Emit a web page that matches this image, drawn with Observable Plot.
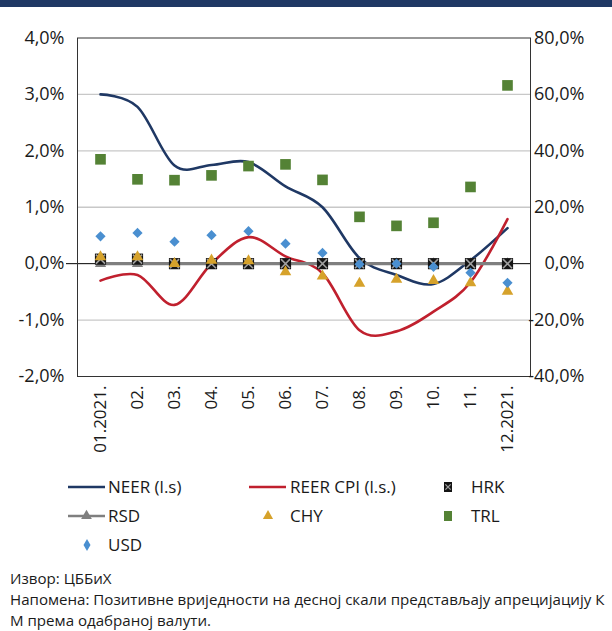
<!DOCTYPE html>
<html><head><meta charset="utf-8">
<script src="https://cdn.jsdelivr.net/npm/d3@7"></script>
<script src="https://cdn.jsdelivr.net/npm/@observablehq/plot@0.6"></script>
<style>
body{margin:0;width:612px;height:631px;position:relative;background:#fff;font-family:"Open Sans",sans-serif;overflow:hidden;color:#1a1a1a}
#bar{position:absolute;left:0;top:0;width:612px;height:7px;background:#1f3864}
#chart{position:absolute;left:0;top:0}
#legend{position:absolute;left:0;top:465px}
#note{position:absolute;left:10px;top:568px;font-size:15.1px;line-height:21px;color:#1a1a1a;white-space:nowrap}
</style></head>
<body>
<div id="chart"></div>
<div id="bar"></div>
<div id="legend"></div>
<div id="note">Извор: ЦББиХ<br>Напомена: Позитивне вриједности на десној скали представљају апрецијацију К<br>М према одабраној валути.</div>
<script>
const months = ["01.2021.","02.","03.","04.","05.","06.","07.","08.","09.","10.","11.","12.2021."];
const neer = [3.0, 2.78, 1.74, 1.75, 1.80, 1.37, 1.0, 0.1, -0.2, -0.36, 0.06, 0.63];
const reer = [-0.30, -0.20, -0.73, 0.0, 0.47, 0.13, -0.17, -1.18, -1.2, -0.85, -0.33, 0.79];
const hrk = [1.6, 1.6, 0, 0, 0, 0, 0, 0, 0, 0, 0, 0];
const rsd = [0, 0, 0, 0, 0, 0, 0, 0, 0, 0, 0, 0];
const chy = [2.4, 2.4, 0.0, 1.2, 1.0, -2.9, -4.4, -7.0, -5.6, -6.0, -6.8, -9.8];
const trl = [37.0, 29.9, 29.6, 31.3, 34.6, 35.2, 29.7, 16.6, 13.4, 14.5, 27.2, 63.2];
const usd = [9.7, 10.9, 7.8, 10.1, 11.5, 7.1, 3.8, -0.2, 0.0, -1.1, -3.2, -6.8];
const leftTicks = [-2, -1, 0, 1, 2, 3, 4];
const ratio = 20; // right axis / left axis

const C = {neer:"#1f3864", reer:"#c0202e", rsd:"#7f7f7f", hrk:"#141414", hrkX:"#a0a0a0", chy:"#d6a22b", trl:"#548235", usd:"#4a8fd0"};

const data = months.map((m, i) => ({m, neer: neer[i], reer: reer[i], hrk: hrk[i], rsd: rsd[i], chy: chy[i], trl: trl[i], usd: usd[i]}));
const r2 = k => d => d[k] / ratio;
const fmt = v => v.toFixed(1).replace(".", ",") + "%";

const chart = Plot.plot({
  width: 612, height: 460,
  marginTop: 37.5, marginBottom: 84, marginLeft: 77, marginRight: 82,
  style: {fontFamily: "Open Sans", fontSize: "18px", color: "#1a1a1a", background: "transparent", overflow: "visible"},
  x: {type: "point", domain: months, padding: 0.5, label: null},
  y: {domain: [-2, 4], label: null},
  marks: [
    Plot.gridY([-1, 1, 2, 3], {stroke: "#c8c8c8", strokeOpacity: 1, strokeWidth: 1.4}),
    Plot.ruleY([0], {stroke: "#000", strokeWidth: 1}),
    Plot.frame({stroke: "#333", strokeWidth: 1}),
    Plot.axisY(leftTicks, {anchor: "left", tickSize: 0, tickPadding: 13, tickFormat: fmt, fontSize: 18, label: null}),
    Plot.axisY([0], {anchor: "left", tickSize: 11, tickFormat: () => "", stroke: "#000", label: null}),
    Plot.axisY(leftTicks, {anchor: "right", tickSize: 0, tickPadding: 54, textAnchor: "end", tickFormat: d => fmt(d * ratio), fontSize: 18, label: null}),
    Plot.axisX({tickSize: 0, tickPadding: 9, tickRotate: -90, fontSize: 17, label: null}),
    Plot.line(data, {x: "m", y: "neer", stroke: C.neer, strokeWidth: 2.6, curve: "cardinal"}),
    Plot.line(data, {x: "m", y: "reer", stroke: C.reer, strokeWidth: 2.6, curve: "cardinal"}),
    Plot.line(data, {x: "m", y: r2("rsd"), stroke: C.rsd, strokeWidth: 3.2}),
    Plot.dot(data, {x: "m", y: r2("rsd"), symbol: "triangle", r: 4.2, fill: C.rsd}),
    Plot.dot(data, {x: "m", y: r2("hrk"), symbol: "square", r: 6.3, fill: C.hrk}),
    Plot.dot(data, {x: "m", y: r2("hrk"), symbol: "times", r: 4.2, stroke: C.hrkX, strokeWidth: 1.6}),
    Plot.dot(data, {x: "m", y: r2("chy"), symbol: "triangle", r: 4.3, fill: C.chy}),
    Plot.dot(data, {x: "m", y: r2("trl"), symbol: "square", r: 6.0, fill: C.trl}),
    Plot.dot(data, {x: "m", y: r2("usd"), symbol: "diamond2", r: 4.6, fill: C.usd})
  ]
});
document.getElementById("chart").append(chart);

// legend
const legendItems = [
  {label: "NEER (l.s)", kind: "line", color: C.neer, x: 68, row: 0},
  {label: "REER CPI (l.s.)", kind: "line", color: C.reer, x: 249, row: 0},
  {label: "HRK", kind: "hrk", x: 448, row: 0},
  {label: "RSD", kind: "lineTri", color: C.rsd, x: 68, row: 1},
  {label: "CHY", kind: "tri", color: C.chy, x: 268, row: 1},
  {label: "TRL", kind: "sq", color: C.trl, x: 448, row: 1},
  {label: "USD", kind: "dia", color: C.usd, x: 87, row: 2}
];
const textX = {68: 108, 249: 290, 448: 471, 268: 290, 87: 108};
const svg = d3.select("#legend").append("svg").attr("width", 612).attr("height", 100)
  .style("font-family", "Open Sans").style("font-size", "17px");
const rowY = i => 22 + i * 29;
legendItems.forEach(it => {
  const y = rowY(it.row);
  const g = svg.append("g");
  if (it.kind === "line" || it.kind === "lineTri") {
    g.append("line").attr("x1", it.x).attr("x2", it.x + 37).attr("y1", y).attr("y2", y)
      .attr("stroke", it.color).attr("stroke-width", 2.6);
    if (it.kind === "lineTri") g.append("path").attr("d", d3.symbol(d3.symbolTriangle, 50)()).attr("transform", `translate(${it.x + 18.5},${y})`).attr("fill", it.color);
  } else if (it.kind === "hrk") {
    g.append("rect").attr("x", it.x - 4).attr("y", y - 5).attr("width", 8).attr("height", 10).attr("fill", C.hrk);
    g.append("path").attr("d", d3.symbol(d3.symbolTimes, 20)()).attr("transform", `translate(${it.x},${y})`).attr("stroke", C.hrkX).attr("stroke-width", 1.3).attr("fill", "none");
  } else if (it.kind === "tri") {
    g.append("path").attr("d", d3.symbol(d3.symbolTriangle, 45)()).attr("transform", `translate(${it.x},${y})`).attr("fill", it.color);
  } else if (it.kind === "sq") {
    g.append("rect").attr("x", it.x - 4).attr("y", y - 5).attr("width", 8).attr("height", 10).attr("fill", it.color);
  } else if (it.kind === "dia") {
    g.append("path").attr("d", "M0,-6L3.5,0L0,6L-3.5,0Z").attr("transform", `translate(${it.x},${y})`).attr("fill", it.color);
  }
  g.append("text").attr("x", textX[it.x]).attr("y", y).attr("dy", "0.35em").attr("fill", "#1a1a1a").text(it.label);
});
</script>
</body></html>
